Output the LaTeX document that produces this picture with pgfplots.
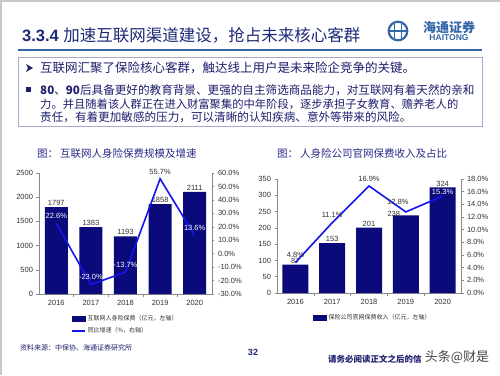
\documentclass[border=0pt]{standalone}
\usepackage{pgfplots}
\pgfplotsset{compat=1.18}
\usepackage{fontspec}
\setmainfont{Liberation Sans}
\newfontfamily\cjk{Noto Sans CJK SC}
\definecolor{navy}{HTML}{0A0A7A}
\definecolor{lineblue}{HTML}{1414F0}
\definecolor{titlec}{HTML}{1E2A78}
\definecolor{textc}{HTML}{1E1E6E}
\definecolor{capc}{HTML}{2A2A8A}
\definecolor{rulec}{HTML}{3566A8}
\definecolor{boxc}{HTML}{A8A8CC}
\definecolor{axc}{HTML}{8A8A8A}
\definecolor{tickc}{HTML}{333333}
\pgfplotsset{
  /pgf/number format/assume math mode=true,
  /pgf/number format/1000 sep={},
  myax/.style={scale only axis, xmin=-0.5, xmax=4.5,
    axis line style={axc, line width=0.6pt},
    tick style={axc, line width=0.5pt},
    major tick length=2.5pt, minor tick length=2.5pt, tick align=outside,
    ticklabel style={font=\fontsize{7.5}{9}\selectfont, text=tickc},
    clip=false},
  baraxis/.style={myax, axis x line*=bottom, axis y line*=left,
    xtick={0,...,4}, xticklabels={2016,2017,2018,2019,2020},
    major x tick style={draw=none},
    minor xtick={0.5,1.5,2.5,3.5}, minor x tick style={draw=axc},
    ybar},
  barlab/.style={draw=none, fill=none, forget plot, bar shift=0pt, nodes near coords,
    every node near coord/.append style={font=\fontsize{7.5}{9}\selectfont, text=tickc, inner sep=1pt, #1}},
  barlab/.default={},
  lineaxis/.style={myax, axis y line*=right, axis x line=none,
    yticklabel={\pgfmathprintnumber[fixed,fixed zerofill,precision=1]{\tick}\%},
    legend cell align=left,
    legend style={draw=none, fill=none, inner sep=0pt, row sep=2pt,
      font=\cjk\fontsize{6}{7}\selectfont, text=tickc}},
  lab/.style 2 args={draw=none, forget plot, point meta=y,
    nodes near coords={\pgfmathprintnumber[fixed,fixed zerofill,precision=1]{\pgfplotspointmeta}\%},
    every node near coord/.append style={anchor=south, yshift=3.5pt, inner sep=1pt,
      font=\fontsize{7.5}{9}\selectfont, text=#1, #2}},
}
\begin{document}
\begin{tikzpicture}[x=1pt,y=1pt]
\path[use as bounding box, fill=white] (0,0) rectangle (500,375);
% slide frame
\draw[black!22, line width=1.5pt] (1,0) -- (1,374) -- (500,374);
% title
\node[anchor=base west, inner sep=0pt, text=titlec] at (22,333.5)
  {\fontsize{16.5}{18}\selectfont\textbf{3.3.4} \cjk 加速互联网渠道建设，抢占未来核心客群};
% logo
\draw[rulec, line width=2.2pt] (398,344) circle (9.3);
\draw[rulec, line width=1.4pt] (390,344) -- (406,344) (394.5,337) -- (394.5,351) (401.5,337) -- (401.5,351);
\node[text=rulec, inner sep=0pt] at (449,347.5) {\cjk\fontsize{13}{14}\selectfont\bfseries 海通证券};
\node[text=rulec, inner sep=0pt] at (449,337) {\fontsize{8.5}{9}\selectfont\bfseries HAITONG};
\draw[rulec, line width=1.5pt] (18,325) -- (482,325);
% text box
\draw[boxc, line width=0.8pt] (18,318) rectangle (482,249);
\fill[textc] (26,311) -- (33,307) -- (26,303) -- (28,307) -- cycle;
\fill[textc] (26,287.5) rectangle (31,282.5);
\node[anchor=west, inner sep=0pt, text=textc] at (40,307)
  {\cjk\fontsize{12.5}{14}\selectfont 互联网汇聚了保险核心客群，触达线上用户是未来险企竞争的关键。};
\node[anchor=west, inner sep=0pt, text=textc] at (40,285)
  {\cjk\fontsize{11.6}{14}\selectfont \textbf{80}、\textbf{90}后具备更好的教育背景、更强的自主筛选商品能力，对互联网有着天然的亲和};
\node[anchor=west, inner sep=0pt, text=textc] at (40,271)
  {\cjk\fontsize{11.3}{14}\selectfont 力。并且随着该人群正在进入财富聚集的中年阶段，逐步承担子女教育、赡养老人的};
\node[anchor=west, inner sep=0pt, text=textc] at (40,258)
  {\cjk\fontsize{11.6}{14}\selectfont 责任，有着更加敏感的压力，可以清晰的认知疾病、意外等带来的风险。};
% chart titles
\node[anchor=west, inner sep=0pt, text=capc] at (37,221)
  {\cjk\fontsize{10.5}{12}\selectfont 图：\hspace{2pt}互联网人身险保费规模及增速};
\node[anchor=west, inner sep=0pt, text=capc] at (277,221)
  {\cjk\fontsize{10.5}{12}\selectfont 图：\hspace{2pt}人身险公司官网保费收入及占比};
% ---------- left chart ----------
\begin{axis}[baraxis, at={(39pt,81pt)}, anchor=south west, width=173pt, height=121pt,
  ymin=0, ymax=2500, ytick={0,500,...,2500}, bar width=23pt]
\addplot[fill=navy, draw=none, bar shift=0pt] coordinates {(0,1797) (1,1383) (2,1193) (3,1858) (4,2111)};
\addplot[barlab] coordinates {(0,1797) (1,1383) (2,1193) (3,1858) (4,2111)};
\end{axis}
\begin{axis}[lineaxis, at={(39pt,81pt)}, anchor=south west, width=173pt, height=121pt,
  ymin=-30, ymax=60, ytick={-30,-20,...,60},
  legend style={at={(axis description cs:0.185,-0.155)}, anchor=north west}]
\addlegendimage{legend image code/.code={\fill[navy] (0pt,-2.5pt) rectangle (13pt,2.5pt);}}
\addlegendentry{互联网人身险保费（亿元，左轴）}
\addplot[lineblue, line width=1.6pt, legend image code/.code={\draw[lineblue, line width=1.5pt] (0pt,0pt) -- (13pt,0pt);}]
  coordinates {(0,22.6) (1,-23.0) (2,-13.7) (3,55.7) (4,13.6)};
\addlegendentry{同比增速（\%，右轴）}
\addplot[lab={white}{}] coordinates {(0,22.6) (1,-23.0) (2,-13.7) (4,13.6)};
\addplot[lab={tickc}{}] coordinates {(3,55.7)};
\end{axis}
% ---------- right chart ----------
\begin{axis}[baraxis, at={(277pt,82pt)}, anchor=south west, width=184pt, height=114pt,
  ymin=0, ymax=350, ytick={0,50,...,350}, bar width=26pt]
\addplot[fill=navy, draw=none, bar shift=0pt] coordinates {(0,87) (1,153) (2,201) (3,238) (4,324)};
\addplot[barlab] coordinates {(0,87) (1,153) (2,201) (4,324)};
\addplot[barlab={xshift=-12pt, yshift=-2.5pt}] coordinates {(3,238)};
\end{axis}
\begin{axis}[lineaxis, at={(277pt,82pt)}, anchor=south west, width=184pt, height=114pt,
  ymin=0, ymax=18, ytick={0,2,...,18},
  legend style={at={(axis description cs:0.196,-0.165)}, anchor=north west}]
\addlegendimage{legend image code/.code={\fill[navy] (0pt,-2.5pt) rectangle (13pt,2.5pt);}}
\addlegendentry{保险公司官网保费收入（亿元，左轴）}
\addplot[lineblue, line width=1.6pt, forget plot]
  coordinates {(0,4.8) (1,11.1) (2,16.9) (3,12.8) (4,15.3)};
\addplot[lab={tickc}{}] coordinates {(0,4.8) (1,11.1) (2,16.9)};
\addplot[lab={tickc}{xshift=-8pt, yshift=3pt}] coordinates {(3,12.8)};
\addplot[lab={white}{yshift=-3pt}] coordinates {(4,15.3)};
\end{axis}
% footer
\node[anchor=west, inner sep=0pt, text=textc] at (20,27)
  {\cjk\fontsize{7}{8}\selectfont 资料来源：中保协、海通证券研究所};
\node[inner sep=0pt, text=titlec] at (253,23) {\fontsize{9}{10}\selectfont\bfseries 32};
\node[anchor=west, inner sep=0pt, text=textc] at (328,16)
  {\cjk\fontsize{8.5}{10}\selectfont\bfseries 请务必阅读正文之后的信};
\node[inner sep=0pt, text=black!72] at (457,18) {\cjk\fontsize{13}{14}\selectfont 头条@财是};
\end{tikzpicture}
\end{document}
